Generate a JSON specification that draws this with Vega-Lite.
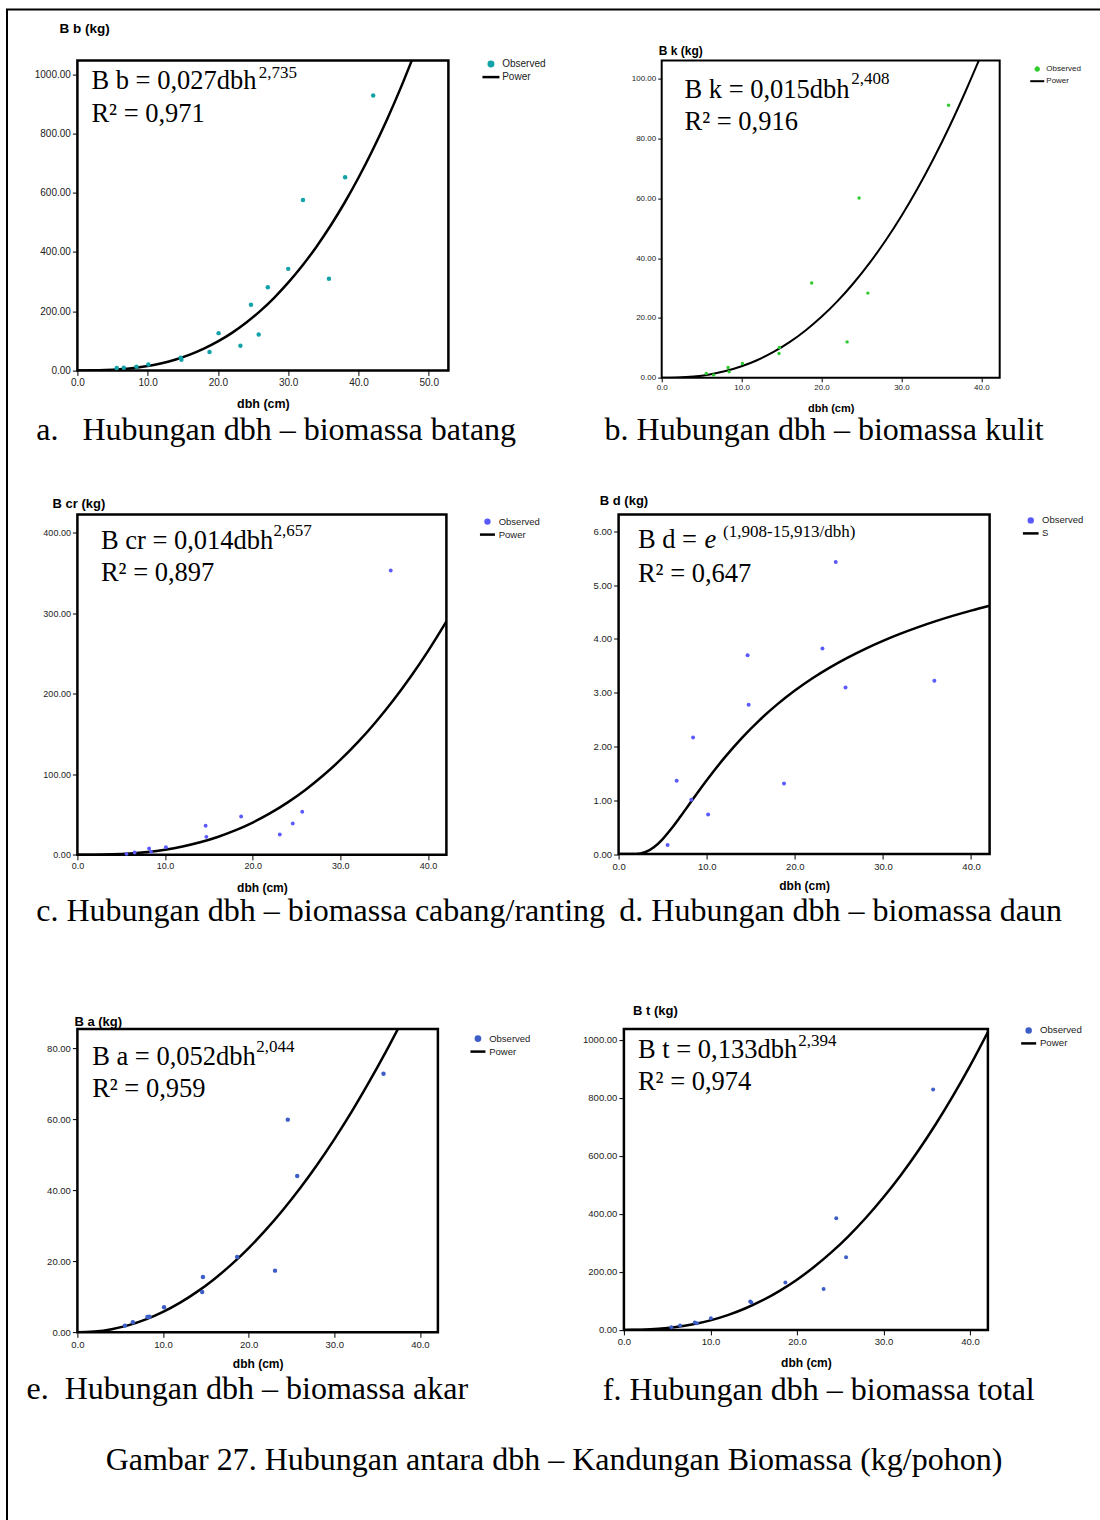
{
  "$schema": "https://vega.github.io/schema/vega-lite/v6.json",
  "background": "white",
  "autosize": {"type": "pad"},
  "padding": {"left": 6, "top": 8.5, "right": 0, "bottom": 0},
  "title": {"text": "Gambar 27. Hubungan antara dbh – Kandungan Biomassa (kg/pohon)", "orient": "bottom", "anchor": "middle", "offset": -53.5, "baseline": "alphabetic", "font": "Liberation Serif", "fontSize": 32, "fontWeight": "normal", "color": "black"},
  "datasets": {
    "a_obs": [{"dbh":5.6,"B":7.9},{"dbh":6.6,"B":9},{"dbh":8.4,"B":12},{"dbh":10.1,"B":20},{"dbh":14.7,"B":42.7},{"dbh":14.8,"B":36},{"dbh":18.8,"B":61.8},{"dbh":20.1,"B":125.8},{"dbh":23.2,"B":83.1},{"dbh":24.7,"B":221.3},{"dbh":25.8,"B":121.3},{"dbh":27.1,"B":280.9},{"dbh":30.0,"B":342.7},{"dbh":32.1,"B":575.3},{"dbh":35.8,"B":309},{"dbh":38.1,"B":651.7},{"dbh":42.1,"B":928.1}],
    "a_fit": [{"dbh":0,"B":0},{"dbh":1,"B":0.027},{"dbh":2,"B":0.18},{"dbh":4,"B":1.197},{"dbh":6,"B":3.63},{"dbh":8,"B":7.97},{"dbh":10,"B":14.67},{"dbh":12,"B":24.15},{"dbh":14,"B":36.82},{"dbh":16,"B":53.05},{"dbh":18,"B":73.2},{"dbh":20,"B":97.7},{"dbh":22,"B":126.7},{"dbh":24,"B":160.8},{"dbh":26,"B":200.1},{"dbh":28,"B":245.1},{"dbh":30,"B":296.0},{"dbh":32,"B":353.1},{"dbh":34,"B":416.8},{"dbh":36,"B":487.3},{"dbh":38,"B":565.0},{"dbh":40,"B":650.2},{"dbh":42,"B":743.1},{"dbh":44,"B":843.8},{"dbh":46,"B":952.7},{"dbh":47.58,"B":1045.6}],
    "b_obs": [{"dbh":5.58,"B":1.45},{"dbh":6.5,"B":0.9},{"dbh":8.31,"B":3.45},{"dbh":8.44,"B":2.0},{"dbh":10.1,"B":4.8},{"dbh":14.73,"B":10.1},{"dbh":14.68,"B":8.1},{"dbh":18.77,"B":31.7},{"dbh":23.2,"B":12.0},{"dbh":24.7,"B":60.1},{"dbh":25.8,"B":28.3},{"dbh":35.9,"B":91.1}],
    "b_fit": [{"dbh":0,"B":0},{"dbh":1,"B":0.015},{"dbh":2,"B":0.0796},{"dbh":4,"B":0.4226},{"dbh":6,"B":1.122},{"dbh":8,"B":2.243},{"dbh":10,"B":3.838},{"dbh":12,"B":5.955},{"dbh":14,"B":8.633},{"dbh":16,"B":11.9},{"dbh":18,"B":15.81},{"dbh":20,"B":20.37},{"dbh":22,"B":25.62},{"dbh":24,"B":31.6},{"dbh":26,"B":38.31},{"dbh":28,"B":45.79},{"dbh":30,"B":54.08},{"dbh":32,"B":63.18},{"dbh":34,"B":73.13},{"dbh":36,"B":83.9},{"dbh":38,"B":95.6},{"dbh":39.68,"B":106.0}],
    "c_obs": [{"dbh":5.61,"B":1.2},{"dbh":6.53,"B":2.9},{"dbh":8.18,"B":7.9},{"dbh":8.4,"B":3.7},{"dbh":10.1,"B":9.5},{"dbh":14.63,"B":36},{"dbh":14.71,"B":22.3},{"dbh":18.68,"B":47.6},{"dbh":23.09,"B":25.2},{"dbh":24.57,"B":38.9},{"dbh":25.65,"B":53.4},{"dbh":35.75,"B":352.8}],
    "c_fit": [{"dbh":0,"B":0},{"dbh":1,"B":0.014},{"dbh":2,"B":0.0883},{"dbh":4,"B":0.557},{"dbh":6,"B":1.635},{"dbh":8,"B":3.513},{"dbh":10,"B":6.356},{"dbh":12,"B":10.32},{"dbh":14,"B":15.53},{"dbh":16,"B":22.16},{"dbh":18,"B":30.3},{"dbh":20,"B":40.08},{"dbh":22,"B":51.65},{"dbh":24,"B":65.08},{"dbh":26,"B":80.49},{"dbh":28,"B":98.03},{"dbh":30,"B":117.7},{"dbh":32,"B":139.7},{"dbh":34,"B":164.2},{"dbh":36,"B":191.1},{"dbh":38,"B":220.6},{"dbh":40,"B":252.8},{"dbh":42,"B":287.8},{"dbh":42.1,"B":289.6}],
    "d_obs": [{"dbh":5.56,"B":0.167},{"dbh":6.59,"B":1.364},{"dbh":8.25,"B":1.01},{"dbh":8.45,"B":2.17},{"dbh":10.16,"B":0.738},{"dbh":14.64,"B":3.7},{"dbh":14.76,"B":2.777},{"dbh":18.77,"B":1.314},{"dbh":23.13,"B":3.824},{"dbh":24.64,"B":5.43},{"dbh":25.75,"B":3.1},{"dbh":35.83,"B":3.223}],
    "d_fit": [{"dbh":0,"B":0},{"dbh":1,"B":0.0},{"dbh":2,"B":0.0024},{"dbh":2.5,"B":0.0116},{"dbh":3,"B":0.0335},{"dbh":4,"B":0.1262},{"dbh":5,"B":0.2796},{"dbh":6,"B":0.4751},{"dbh":7,"B":0.694},{"dbh":8,"B":0.9221},{"dbh":9,"B":1.1502},{"dbh":10,"B":1.3726},{"dbh":12,"B":1.7893},{"dbh":14,"B":2.1628},{"dbh":16,"B":2.4928},{"dbh":18,"B":2.784},{"dbh":20,"B":3.0414},{"dbh":22,"B":3.2698},{"dbh":24,"B":3.473},{"dbh":26,"B":3.6548},{"dbh":28,"B":3.818},{"dbh":30,"B":3.9655},{"dbh":32,"B":4.0989},{"dbh":34,"B":4.2207},{"dbh":36,"B":4.3319},{"dbh":38,"B":4.4336},{"dbh":40,"B":4.5277},{"dbh":42.1,"B":4.6182}],
    "e_obs": [{"dbh":5.55,"B":1.88},{"dbh":6.48,"B":2.82},{"dbh":8.18,"B":4.32},{"dbh":8.42,"B":4.41},{"dbh":10.12,"B":7.04},{"dbh":14.66,"B":15.59},{"dbh":14.57,"B":11.36},{"dbh":18.66,"B":21.22},{"dbh":23.08,"B":17.37},{"dbh":24.57,"B":59.9},{"dbh":25.67,"B":44.0},{"dbh":35.75,"B":72.8}],
    "e_fit": [{"dbh":0,"B":0},{"dbh":1,"B":0.052},{"dbh":2,"B":0.2144},{"dbh":4,"B":0.8844},{"dbh":6,"B":2.025},{"dbh":8,"B":3.647},{"dbh":10,"B":5.754},{"dbh":12,"B":8.353},{"dbh":14,"B":11.45},{"dbh":16,"B":15.04},{"dbh":18,"B":19.13},{"dbh":20,"B":23.73},{"dbh":22,"B":28.84},{"dbh":24,"B":34.46},{"dbh":26,"B":40.58},{"dbh":28,"B":47.21},{"dbh":30,"B":54.35},{"dbh":32,"B":62.0},{"dbh":34,"B":70.22},{"dbh":36,"B":78.91},{"dbh":37.42,"B":85.4}],
    "f_obs": [{"dbh":5.48,"B":9.2},{"dbh":6.49,"B":14.9},{"dbh":8.19,"B":25.3},{"dbh":8.44,"B":23},{"dbh":10.06,"B":40.2},{"dbh":14.6,"B":97.7},{"dbh":14.73,"B":94.3},{"dbh":18.66,"B":163.2},{"dbh":23.08,"B":141.4},{"dbh":24.54,"B":385},{"dbh":25.68,"B":250.6},{"dbh":35.74,"B":828.7}],
    "f_fit": [{"dbh":0,"B":0},{"dbh":1,"B":0.133},{"dbh":2,"B":0.699},{"dbh":4,"B":3.675},{"dbh":6,"B":9.7},{"dbh":8,"B":19.31},{"dbh":10,"B":32.95},{"dbh":12,"B":50.99},{"dbh":14,"B":73.76},{"dbh":16,"B":101.5},{"dbh":18,"B":134.6},{"dbh":20,"B":173.1},{"dbh":22,"B":217.6},{"dbh":24,"B":268.0},{"dbh":26,"B":324.6},{"dbh":28,"B":387.6},{"dbh":30,"B":457.3},{"dbh":32,"B":533.5},{"dbh":34,"B":616.9},{"dbh":36,"B":707.4},{"dbh":38,"B":805.1},{"dbh":40,"B":910.2},{"dbh":42.07,"B":1027.1}]
  },
  "columns": 1,
  "align": "none",
  "spacing": -1503.9,
  "resolve": {"scale": {"color": "independent"}, "legend": {"color": "independent"}},
  "concat": [
    {
      "width": 1094, "height": 1513,
      "data": {"values": []},
      "mark": "point",
      "encoding": {},
      "view": {"stroke": "black", "strokeWidth": 2, "fill": null}
    },
    {
      "spacing": 16.4,
      "resolve": {"scale": {"color": "independent"}, "legend": {"color": "independent"}},
      "hconcat": [
        {"width": 1, "height": 1, "data": {"values": []}, "mark": "point", "encoding": {}, "view": {"stroke": null}},
        {
          "spacing": 74.5,
          "resolve": {"scale": {"color": "independent"}, "legend": {"color": "independent"}},
          "vconcat": [
            {
              "spacing": 45.9,
              "resolve": {"scale": {"color": "independent"}, "legend": {"color": "independent"}},
              "vconcat": [
                {
                  "bounds": "flush",
                  "spacing": 213.3,
                  "resolve": {"scale": {"color": "independent"}, "legend": {"color": "independent"}},
                  "hconcat": [
                    {
                      "width": 371, "height": 309.8,
                      "view": {"stroke": "black", "strokeWidth": 2.5},
                      "title": {"text": "a.\u00a0\u00a0\u00a0Hubungan dbh – biomassa batang", "orient": "bottom", "anchor": "start", "frame": "group", "dx": -41.2, "offset": 30.75, "baseline": "alphabetic", "fontSize": 32},
                      "layer": [
                        {"data": {"name": "a_fit"}, "mark": {"type": "line", "strokeWidth": 2.5, "interpolate": "monotone", "clip": true},
                         "encoding": {
                           "x": {"field": "dbh", "type": "quantitative", "scale": {"domain": [0, 52.8], "nice": false, "zero": false}, "axis": {"values": [0,10,20,30,40,50], "format": ".1f", "title": "dbh (cm)", "labelFontSize": 10, "titleFontSize": 12.5, "titleY": 32.7, "titleBaseline": "middle"}},
                           "y": {"field": "B", "type": "quantitative", "scale": {"domain": [0, 1045.6], "nice": false, "zero": false}, "axis": {"values": [0,200,400,600,800,1000], "format": ".2f", "title": "B b (kg)", "labelFontSize": 10, "titleFontSize": 13.5, "titleAngle": 0, "titleAlign": "left", "titleBaseline": "middle", "titleX": -18.3, "titleY": -32.1}},
                           "color": {"datum": "Power", "scale": {"domain": ["Observed", "Power"], "range": ["#12a2a8", "#000000"]},
                             "legend": {"orient": "none", "legendX": 408.05, "legendY": -2, "title": null, "labelFontSize": 10, "labelOffset": 5.75, "rowPadding": -2.2, "symbolSize": 64,
                               "encode": {"symbols": {"update": {
                                 "shape": {"signal": "datum.value === 'Observed' ? 'circle' : 'M-2.125,0L2.125,0'"},
                                 "size": {"signal": "datum.value === 'Observed' ? 20 : 64"},
                                 "fill": {"signal": "datum.value === 'Observed' ? '#12a2a8' : 'transparent'"},
                                 "stroke": {"signal": "datum.value === 'Observed' ? 'transparent' : '#000000'"},
                                 "strokeWidth": {"value": 2.5}, "opacity": {"value": 1}}}}}}
                         }},
                        {"data": {"name": "a_obs"}, "mark": {"type": "point", "filled": true, "size": 20, "opacity": 1},
                         "encoding": {"x": {"field": "dbh", "type": "quantitative"}, "y": {"field": "B", "type": "quantitative"}, "color": {"datum": "Observed"}}},
                        {"data": {"values": [{}]}, "mark": {"type": "text", "text": "B b = 0,027dbh", "align": "left", "baseline": "alphabetic", "fontSize": 26.5},
                         "encoding": {"x": {"datum": 1.99}, "y": {"datum": 951.4}}},
                        {"data": {"values": [{}]}, "mark": {"type": "text", "text": "2,735", "align": "left", "baseline": "alphabetic", "fontSize": 17},
                         "encoding": {"x": {"datum": 25.8}, "y": {"datum": 988.5}}},
                        {"data": {"values": [{}]}, "mark": {"type": "text", "text": "R² = 0,971", "align": "left", "baseline": "alphabetic", "fontSize": 26.5},
                         "encoding": {"x": {"datum": 1.99}, "y": {"datum": 839}}}
                      ]
                    },
                    {
                      "width": 338, "height": 317.2,
                      "view": {"stroke": "black", "strokeWidth": 2},
                      "title": {"text": "b. Hubungan dbh – biomassa kulit", "orient": "bottom", "anchor": "start", "frame": "group", "dx": -57.1, "offset": 26.1, "baseline": "alphabetic", "fontSize": 32},
                      "layer": [
                        {"data": {"name": "b_fit"}, "mark": {"type": "line", "strokeWidth": 2, "interpolate": "monotone", "clip": true},
                         "encoding": {
                           "x": {"field": "dbh", "type": "quantitative", "scale": {"domain": [0, 42.3], "nice": false, "zero": false}, "axis": {"values": [0,10,20,30,40], "format": ".1f", "title": "dbh (cm)", "labelFontSize": 8, "titleFontSize": 11, "titleY": 30.7, "titleBaseline": "middle", "tickSize": 4}},
                           "y": {"field": "B", "type": "quantitative", "scale": {"domain": [0, 106.0], "nice": false, "zero": false}, "axis": {"values": [0,20,40,60,80,100], "format": ".2f", "title": "B k (kg)", "labelFontSize": 8, "titleFontSize": 12, "titleAngle": 0, "titleAlign": "left", "titleBaseline": "middle", "titleX": -3.5, "titleY": -10.5, "tickSize": 4}},
                           "color": {"datum": "Power", "scale": {"domain": ["Observed", "Power"], "range": ["#2ecc2e", "#000000"]},
                             "legend": {"orient": "none", "legendX": 370.55, "legendY": 3.5, "title": null, "labelFontSize": 8, "labelOffset": 4.05, "rowPadding": 1.1, "symbolSize": 64,
                               "encode": {"symbols": {"update": {
                                 "shape": {"signal": "datum.value === 'Observed' ? 'circle' : 'M-1.75,0L1.75,0'"},
                                 "size": {"signal": "datum.value === 'Observed' ? 12 : 64"},
                                 "fill": {"signal": "datum.value === 'Observed' ? '#2ecc2e' : 'transparent'"},
                                 "stroke": {"signal": "datum.value === 'Observed' ? 'transparent' : '#000000'"},
                                 "strokeWidth": {"value": 2}, "opacity": {"value": 1}}}}}}
                         }},
                        {"data": {"name": "b_obs"}, "mark": {"type": "point", "filled": true, "size": 12, "opacity": 1},
                         "encoding": {"x": {"field": "dbh", "type": "quantitative"}, "y": {"field": "B", "type": "quantitative"}, "color": {"datum": "Observed"}}},
                        {"data": {"values": [{}]}, "mark": {"type": "text", "text": "B k = 0,015dbh", "align": "left", "baseline": "alphabetic", "fontSize": 26.5},
                         "encoding": {"x": {"datum": 2.85}, "y": {"datum": 93.65}}},
                        {"data": {"values": [{}]}, "mark": {"type": "text", "text": "2,408", "align": "left", "baseline": "alphabetic", "fontSize": 17},
                         "encoding": {"x": {"datum": 23.72}, "y": {"datum": 98.1}}},
                        {"data": {"values": [{}]}, "mark": {"type": "text", "text": "R² = 0,916", "align": "left", "baseline": "alphabetic", "fontSize": 26.5},
                         "encoding": {"x": {"datum": 2.85}, "y": {"datum": 82.86}}}
                      ]
                    }
                  ]
                },
                {
                  "bounds": "flush",
                  "spacing": 172.2,
                  "resolve": {"scale": {"color": "independent"}, "legend": {"color": "independent"}},
                  "hconcat": [
                    {
                      "width": 369, "height": 340.3,
                      "view": {"stroke": "black", "strokeWidth": 2.5},
                      "title": {"text": "c. Hubungan dbh – biomassa cabang/ranting", "orient": "bottom", "anchor": "start", "frame": "group", "dx": -41.1, "offset": 27.4, "baseline": "alphabetic", "fontSize": 32},
                      "layer": [
                        {"data": {"name": "c_fit"}, "mark": {"type": "line", "strokeWidth": 2.5, "interpolate": "monotone", "clip": true},
                         "encoding": {
                           "x": {"field": "dbh", "type": "quantitative", "scale": {"domain": [0, 42.1], "nice": false, "zero": false}, "axis": {"values": [0,10,20,30,40], "format": ".1f", "title": "dbh (cm)", "labelFontSize": 9, "titleFontSize": 12, "titleY": 32.3, "titleBaseline": "middle"}},
                           "y": {"field": "B", "type": "quantitative", "scale": {"domain": [0, 422.3], "nice": false, "zero": false}, "axis": {"values": [0,100,200,300,400], "format": ".2f", "title": "B cr (kg)", "labelFontSize": 9, "titleFontSize": 13, "titleAngle": 0, "titleAlign": "left", "titleBaseline": "middle", "titleX": -25.3, "titleY": -11.4}},
                           "color": {"datum": "Power", "scale": {"domain": ["Observed", "Power"], "range": ["#5a5aff", "#000000"]},
                             "legend": {"orient": "none", "legendX": 404.55, "legendY": 1.6, "title": null, "labelFontSize": 9.5, "labelOffset": 5.75, "rowPadding": -2, "symbolSize": 64,
                               "encode": {"symbols": {"update": {
                                 "shape": {"signal": "datum.value === 'Observed' ? 'circle' : 'M-1.875,0L1.875,0'"},
                                 "size": {"signal": "datum.value === 'Observed' ? 15 : 64"},
                                 "fill": {"signal": "datum.value === 'Observed' ? '#5a5aff' : 'transparent'"},
                                 "stroke": {"signal": "datum.value === 'Observed' ? 'transparent' : '#000000'"},
                                 "strokeWidth": {"value": 2.5}, "opacity": {"value": 1}}}}}}
                         }},
                        {"data": {"name": "c_obs"}, "mark": {"type": "point", "filled": true, "size": 15, "opacity": 1},
                         "encoding": {"x": {"field": "dbh", "type": "quantitative"}, "y": {"field": "B", "type": "quantitative"}, "color": {"datum": "Observed"}}},
                        {"data": {"values": [{}]}, "mark": {"type": "text", "text": "B cr = 0,014dbh", "align": "left", "baseline": "alphabetic", "fontSize": 26.5},
                         "encoding": {"x": {"datum": 2.68}, "y": {"datum": 379.7}}},
                        {"data": {"values": [{}]}, "mark": {"type": "text", "text": "2,657", "align": "left", "baseline": "alphabetic", "fontSize": 17},
                         "encoding": {"x": {"datum": 22.36}, "y": {"datum": 395.0}}},
                        {"data": {"values": [{}]}, "mark": {"type": "text", "text": "R² = 0,897", "align": "left", "baseline": "alphabetic", "fontSize": 26.5},
                         "encoding": {"x": {"datum": 2.68}, "y": {"datum": 340.0}}}
                      ]
                    },
                    {
                      "width": 371, "height": 339.6,
                      "view": {"stroke": "black", "strokeWidth": 2.5},
                      "title": {"text": "d. Hubungan dbh – biomassa daun", "orient": "bottom", "anchor": "start", "frame": "group", "dx": 0.7, "offset": 28.7, "baseline": "alphabetic", "fontSize": 32},
                      "layer": [
                        {"data": {"name": "d_fit"}, "mark": {"type": "line", "strokeWidth": 2.5, "interpolate": "monotone", "clip": true},
                         "encoding": {
                           "x": {"field": "dbh", "type": "quantitative", "scale": {"domain": [0, 42.1], "nice": false, "zero": false}, "axis": {"values": [0,10,20,30,40], "format": ".1f", "title": "dbh (cm)", "labelFontSize": 9.5, "titleFontSize": 12, "titleY": 31.7, "titleBaseline": "middle"}},
                           "y": {"field": "B", "type": "quantitative", "scale": {"domain": [0, 6.315], "nice": false, "zero": false}, "axis": {"values": [0,1,2,3,4,5,6], "format": ".2f", "title": "B d (kg)", "labelFontSize": 9.5, "titleFontSize": 13, "titleAngle": 0, "titleAlign": "left", "titleBaseline": "middle", "titleX": -19.3, "titleY": -13.7}},
                           "color": {"datum": "S", "scale": {"domain": ["Observed", "S"], "range": ["#5a5aff", "#000000"]},
                             "legend": {"orient": "none", "legendX": 406.65, "legendY": 0.4, "title": null, "labelFontSize": 9.5, "labelOffset": 5.85, "rowPadding": -1.8, "symbolSize": 64,
                               "encode": {"symbols": {"update": {
                                 "shape": {"signal": "datum.value === 'Observed' ? 'circle' : 'M-1.96,0L1.96,0'"},
                                 "size": {"signal": "datum.value === 'Observed' ? 15 : 64"},
                                 "fill": {"signal": "datum.value === 'Observed' ? '#5a5aff' : 'transparent'"},
                                 "stroke": {"signal": "datum.value === 'Observed' ? 'transparent' : '#000000'"},
                                 "strokeWidth": {"value": 2.5}, "opacity": {"value": 1}}}}}}
                         }},
                        {"data": {"name": "d_obs"}, "mark": {"type": "point", "filled": true, "size": 16, "opacity": 1},
                         "encoding": {"x": {"field": "dbh", "type": "quantitative"}, "y": {"field": "B", "type": "quantitative"}, "color": {"datum": "Observed"}}},
                        {"data": {"values": [{}]}, "mark": {"type": "text", "text": "B d = ", "align": "left", "baseline": "alphabetic", "fontSize": 26.5},
                         "encoding": {"x": {"datum": 2.19}, "y": {"datum": 5.69}}},
                        {"data": {"values": [{}]}, "mark": {"type": "text", "text": "e", "align": "left", "baseline": "alphabetic", "fontSize": 26.5, "fontStyle": "italic"},
                         "encoding": {"x": {"datum": 9.75}, "y": {"datum": 5.69}}},
                        {"data": {"values": [{}]}, "mark": {"type": "text", "text": "(1,908-15,913/dbh)", "align": "left", "baseline": "alphabetic", "fontSize": 17},
                         "encoding": {"x": {"datum": 11.86}, "y": {"datum": 5.894}}},
                        {"data": {"values": [{}]}, "mark": {"type": "text", "text": "R² = 0,647", "align": "left", "baseline": "alphabetic", "fontSize": 26.5},
                         "encoding": {"x": {"datum": 2.19}, "y": {"datum": 5.069}}}
                      ]
                    }
                  ]
                }
              ]
            },
            {
              "bounds": "flush",
              "spacing": 185.5,
              "resolve": {"scale": {"color": "independent"}, "legend": {"color": "independent"}},
              "hconcat": [
                {
                  "width": 360.5, "height": 303.2,
                  "view": {"stroke": "black", "strokeWidth": 2.5},
                  "title": {"text": "e.\u00a0\u00a0Hubungan dbh – biomassa akar", "orient": "bottom", "anchor": "start", "frame": "group", "dx": -50.9, "offset": 29, "baseline": "alphabetic", "fontSize": 32},
                  "layer": [
                    {"data": {"name": "e_fit"}, "mark": {"type": "line", "strokeWidth": 2.5, "interpolate": "monotone", "clip": true},
                     "encoding": {
                       "x": {"field": "dbh", "type": "quantitative", "scale": {"domain": [0, 42.1], "nice": false, "zero": false}, "axis": {"values": [0,10,20,30,40], "format": ".1f", "title": "dbh (cm)", "labelFontSize": 9.5, "titleFontSize": 12, "titleY": 31.6, "titleBaseline": "middle"}},
                       "y": {"field": "B", "type": "quantitative", "scale": {"domain": [0, 85.4], "nice": false, "zero": false}, "axis": {"values": [0,20,40,60,80], "format": ".2f", "title": "B a (kg)", "labelFontSize": 9.5, "titleFontSize": 13, "titleAngle": 0, "titleAlign": "left", "titleBaseline": "middle", "titleX": -3.5, "titleY": -7.8}},
                       "color": {"datum": "Power", "scale": {"domain": ["Observed", "Power"], "range": ["#3d5ec6", "#000000"]},
                         "legend": {"orient": "none", "legendX": 395.05, "legendY": 4, "title": null, "labelFontSize": 9.5, "labelOffset": 5.75, "rowPadding": -0.8, "symbolSize": 64,
                           "encode": {"symbols": {"update": {
                             "shape": {"signal": "datum.value === 'Observed' ? 'circle' : 'M-1.875,0L1.875,0'"},
                             "size": {"signal": "datum.value === 'Observed' ? 18 : 64"},
                             "fill": {"signal": "datum.value === 'Observed' ? '#3d5ec6' : 'transparent'"},
                             "stroke": {"signal": "datum.value === 'Observed' ? 'transparent' : '#000000'"},
                             "strokeWidth": {"value": 2.5}, "opacity": {"value": 1}}}}}}
                     }},
                    {"data": {"name": "e_obs"}, "mark": {"type": "point", "filled": true, "size": 20, "opacity": 1},
                     "encoding": {"x": {"field": "dbh", "type": "quantitative"}, "y": {"field": "B", "type": "quantitative"}, "color": {"datum": "Observed"}}},
                    {"data": {"values": [{}]}, "mark": {"type": "text", "text": "B a = 0,052dbh", "align": "left", "baseline": "alphabetic", "fontSize": 26.5},
                     "encoding": {"x": {"datum": 1.72}, "y": {"datum": 75.3}}},
                    {"data": {"values": [{}]}, "mark": {"type": "text", "text": "2,044", "align": "left", "baseline": "alphabetic", "fontSize": 17},
                     "encoding": {"x": {"datum": 20.89}, "y": {"datum": 78.9}}},
                    {"data": {"values": [{}]}, "mark": {"type": "text", "text": "R² = 0,959", "align": "left", "baseline": "alphabetic", "fontSize": 26.5},
                     "encoding": {"x": {"datum": 1.72}, "y": {"datum": 66.2}}}
                  ]
                },
                {
                  "width": 364, "height": 300.8,
                  "view": {"stroke": "black", "strokeWidth": 2.5},
                  "title": {"text": "f. Hubungan dbh – biomassa total", "orient": "bottom", "anchor": "start", "frame": "group", "dx": -21.1, "offset": 31.6, "baseline": "alphabetic", "fontSize": 32},
                  "layer": [
                    {"data": {"name": "f_fit"}, "mark": {"type": "line", "strokeWidth": 2.5, "interpolate": "monotone", "clip": true},
                     "encoding": {
                       "x": {"field": "dbh", "type": "quantitative", "scale": {"domain": [0, 42.07], "nice": false, "zero": false}, "axis": {"values": [0,10,20,30,40], "format": ".1f", "title": "dbh (cm)", "labelFontSize": 9.5, "titleFontSize": 12, "titleY": 32.4, "titleBaseline": "middle"}},
                       "y": {"field": "B", "type": "quantitative", "scale": {"domain": [0, 1037.2], "nice": false, "zero": false}, "axis": {"values": [0,200,400,600,800,1000], "format": ".2f", "title": "B t (kg)", "labelFontSize": 9.5, "titleFontSize": 13, "titleAngle": 0, "titleAlign": "left", "titleBaseline": "middle", "titleX": 8.7, "titleY": -18.5}},
                       "color": {"datum": "Power", "scale": {"domain": ["Observed", "Power"], "range": ["#3d5ec6", "#000000"]},
                         "legend": {"orient": "none", "legendX": 399.25, "legendY": -4.2, "title": null, "labelFontSize": 9.7, "labelOffset": 5.75, "rowPadding": -1, "symbolSize": 64,
                           "encode": {"symbols": {"update": {
                             "shape": {"signal": "datum.value === 'Observed' ? 'circle' : 'M-1.875,0L1.875,0'"},
                             "size": {"signal": "datum.value === 'Observed' ? 16 : 64"},
                             "fill": {"signal": "datum.value === 'Observed' ? '#3d5ec6' : 'transparent'"},
                             "stroke": {"signal": "datum.value === 'Observed' ? 'transparent' : '#000000'"},
                             "strokeWidth": {"value": 2.5}, "opacity": {"value": 1}}}}}}
                     }},
                    {"data": {"name": "f_obs"}, "mark": {"type": "point", "filled": true, "size": 16, "opacity": 1},
                     "encoding": {"x": {"field": "dbh", "type": "quantitative"}, "y": {"field": "B", "type": "quantitative"}, "color": {"datum": "Observed"}}},
                    {"data": {"values": [{}]}, "mark": {"type": "text", "text": "B t = 0,133dbh", "align": "left", "baseline": "alphabetic", "fontSize": 26.5},
                     "encoding": {"x": {"datum": 1.62}, "y": {"datum": 937.9}}},
                    {"data": {"values": [{}]}, "mark": {"type": "text", "text": "2,394", "align": "left", "baseline": "alphabetic", "fontSize": 17},
                     "encoding": {"x": {"datum": 20.15}, "y": {"datum": 980.3}}},
                    {"data": {"values": [{}]}, "mark": {"type": "text", "text": "R² = 0,974", "align": "left", "baseline": "alphabetic", "fontSize": 26.5},
                     "encoding": {"x": {"datum": 1.62}, "y": {"datum": 827.6}}}
                  ]
                }
              ]
            }
          ]
        }
      ]
    }
  ],
  "config": {
    "view": {"stroke": "black", "strokeWidth": 2.5},
    "axis": {"grid": false, "domain": false, "tickColor": "#000000", "tickSize": 5, "tickWidth": 1, "labelFont": "Liberation Sans", "labelColor": "#222222", "labelPadding": 2, "labelFlush": false, "labelOverlap": false, "titleFont": "Liberation Sans", "titleFontWeight": "bold", "titleColor": "#000000"},
    "legend": {"labelFont": "Liberation Sans", "labelColor": "#222222", "padding": 0},
    "title": {"font": "Liberation Serif", "fontWeight": "normal", "color": "#000000"},
    "text": {"font": "Liberation Serif", "color": "#000000"}
  }
}
